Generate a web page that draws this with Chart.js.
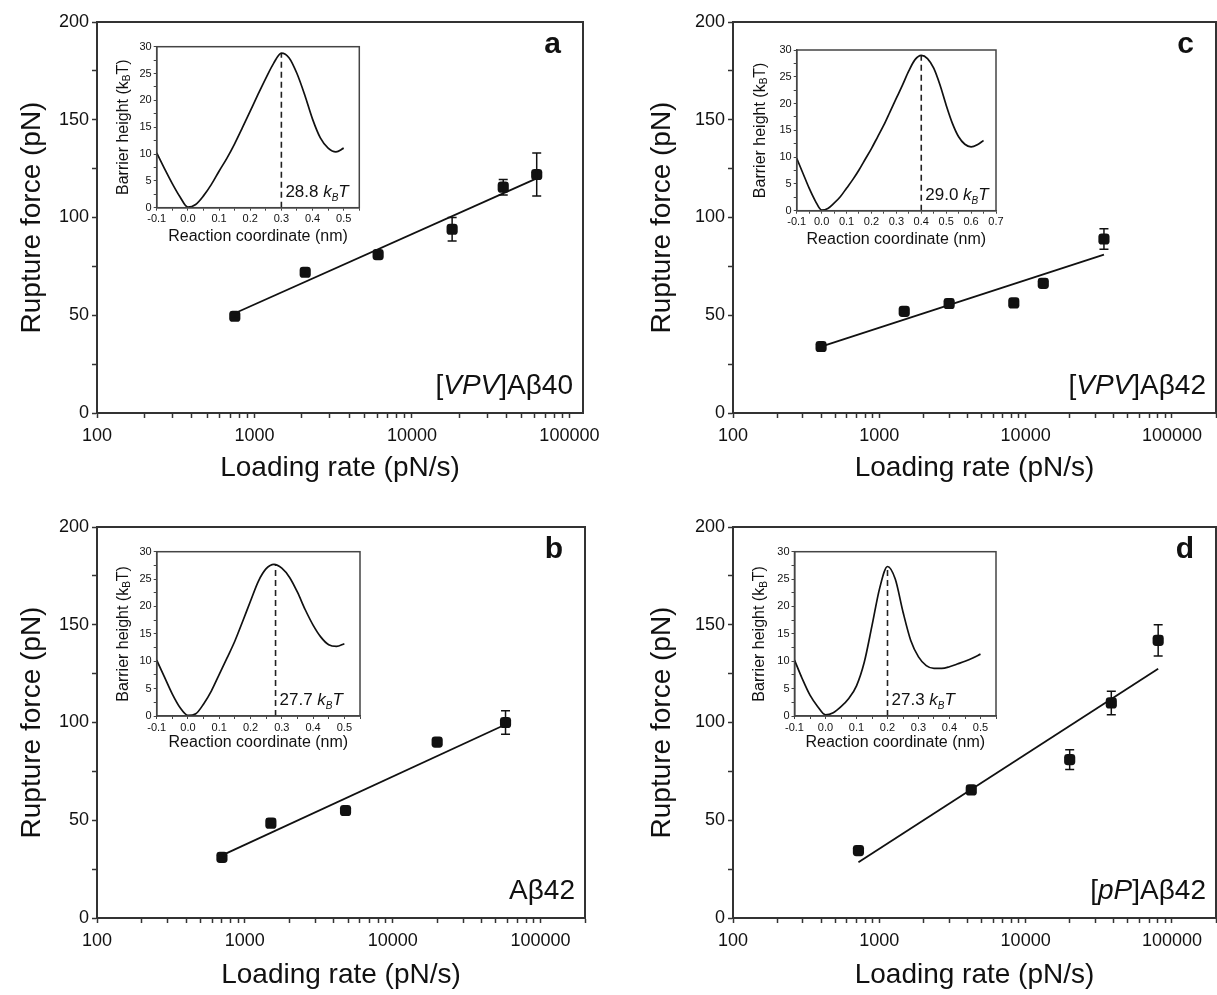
<!DOCTYPE html>
<html>
<head>
<meta charset="utf-8">
<script src="https://cdn.jsdelivr.net/npm/chart.js@4.4.1/dist/chart.umd.min.js"></script>
<style>
body { margin: 0; background: #fff; }
#fig { position: relative; width: 1217px; height: 995px; overflow: hidden; background: #fff; }
#fig canvas { position: absolute; }
</style>
</head>
<body>
<div id="fig">
  <canvas id="mainA" width="608" height="497" style="left:0;top:0"></canvas>
  <canvas id="mainB" width="608" height="490" style="left:0;top:505px"></canvas>
  <canvas id="mainC" width="590" height="497" style="left:636px;top:0"></canvas>
  <canvas id="mainD" width="590" height="490" style="left:636px;top:505px"></canvas>
  <canvas id="insetA" width="275" height="225" style="left:100px;top:30px"></canvas>
  <canvas id="insetB" width="275" height="225" style="left:100px;top:535px"></canvas>
  <canvas id="insetC" width="275" height="230" style="left:740px;top:30px"></canvas>
  <canvas id="insetD" width="275" height="225" style="left:740px;top:535px"></canvas>
</div>
<script>
var FAMILY = "'Liberation Sans', Arial, sans-serif";
Chart.defaults.font.family = FAMILY;
Chart.defaults.color = '#111';

// ---- main panels: loading rate (pN/s) vs rupture force (pN) ----
// a: [VPV]Abeta40
var rateA = [750, 2100, 6100, 18000, 38000, 62000];
var forceA = [49.5, 72, 81, 94, 115.5, 122];
var errA = [1, 1.5, 2, 6, 4, 11];
var fitRateA = [750, 62000];
var fitForceA = [51, 120];

// b: Abeta42
var rateB = [700, 1500, 4800, 20000, 58000];
var forceB = [31, 48.5, 55, 90, 100];
var errB = [1, 2, 1.2, 1.2, 6];
var fitRateB = [700, 58000];
var fitForceB = [32, 99];

// c: [VPV]Abeta42
var rateC = [400, 1480, 3000, 8300, 13200, 34300];
var forceC = [34, 52, 56, 56.3, 66.3, 89];
var errC = [1, 1, 2, 1, 2, 5.3];
var fitRateC = [400, 34300];
var fitForceC = [34, 81];

// d: [pP]Abeta42
var rateD = [720, 4250, 20000, 38500, 80500];
var forceD = [34.5, 65.5, 81, 110, 142];
var errD = [1, 2, 5, 6, 8];
var fitRateD = [720, 80500];
var fitForceD = [28.5, 127.5];

var forceTicks = [0, 25, 50, 75, 100, 125, 150, 175, 200];

// ---- insets: reaction coordinate (nm) vs barrier height (kBT) ----
var coordShort = [-0.1, -0.075, -0.05, -0.025, 0, 0.025, 0.05, 0.075, 0.1, 0.125, 0.15, 0.175, 0.2,
                  0.225, 0.25, 0.275, 0.3, 0.325, 0.35, 0.375, 0.4, 0.425, 0.45, 0.475, 0.5];
var coordLong = [-0.1, -0.075, -0.05, -0.025, 0, 0.025, 0.05, 0.075, 0.1, 0.125, 0.15, 0.175, 0.2,
                 0.225, 0.25, 0.275, 0.3, 0.325, 0.35, 0.375, 0.4, 0.425, 0.45, 0.475, 0.5,
                 0.525, 0.55, 0.575, 0.6, 0.625, 0.65];
var barrierA = [10.2, 7.3, 4.5, 2.0, 0.1, 0.6, 2.2, 4.3, 6.8, 9.2, 11.9, 14.9, 18.0,
                21.1, 24.1, 26.9, 28.8, 27.9, 25.0, 21.0, 16.5, 13.0, 11.1, 10.4, 11.1];
var barrierB = [10.2, 7.1, 4.0, 1.5, 0.1, 0.4, 2.2, 4.6, 7.6, 10.6, 13.7, 17.3, 21.0,
                24.6, 26.9, 27.7, 27.0, 25.3, 22.6, 19.4, 16.6, 14.4, 13.0, 12.7, 13.2];
var barrierC = [9.8, 7.0, 4.2, 1.8, 0.1, 0.4, 1.4, 2.6, 4.2, 5.8, 7.6, 9.6, 11.6,
                13.8, 16.0, 18.5, 21.0, 23.5, 26.1, 28.2, 29.0, 28.4, 26.6, 23.5, 19.7,
                16.3, 13.8, 12.4, 11.9, 12.3, 13.1];
var barrierD = [10.2, 6.8, 3.8, 1.7, 0.2, 0.6, 1.7, 3.2, 5.5, 9.8, 16.5, 23.4, 27.3,
                25.0, 19.0, 13.8, 10.8, 9.2, 8.7, 8.7, 9.0, 9.5, 10.0, 10.6, 11.3];
var peakX = [0.3, 0.28, 0.4, 0.2];
var peakY = [28.8, 27.7, 29.0, 27.3];
var peakText = ['28.8', '27.7', '29.0', '27.3'];

var coordTicksShort = [-0.1, -0.05, 0, 0.05, 0.1, 0.15, 0.2, 0.25, 0.3, 0.35, 0.4, 0.45, 0.5, 0.55];
var coordTicksLong = [-0.1, -0.05, 0, 0.05, 0.1, 0.15, 0.2, 0.25, 0.3, 0.35, 0.4, 0.45, 0.5, 0.55, 0.6, 0.65, 0.7];
var barrierTicks = [0, 2.5, 5, 7.5, 10, 12.5, 15, 17.5, 20, 22.5, 25, 27.5, 30];

function logTicks(max) {
  var out = [];
  for (var p = 100; p <= max; p *= 10)
    for (var m = 1; m <= 9; m++) if (m * p <= max) out.push(m * p);
  return out;
}

function pts(xs, ys) {
  return xs.map(function (x, i) { return { x: x, y: ys[i] }; });
}

// draws a run of text pieces [text, font, dy]
function richText(ctx, parts, x, y, align) {
  var total = 0;
  parts.forEach(function (p) { ctx.font = p[1]; total += ctx.measureText(p[0]).width; });
  var cx = align === 'right' ? x - total : (align === 'center' ? x - total / 2 : x);
  ctx.textAlign = 'left';
  parts.forEach(function (p) {
    ctx.font = p[1];
    ctx.fillText(p[0], cx, y + (p[2] || 0));
    cx += ctx.measureText(p[0]).width;
  });
}

function mainChart(id, c) {
  var deco = {
    id: 'mainDeco',
    afterDatasetsDraw: function (chart) {
      var ctx = chart.ctx, a = chart.chartArea, xs = chart.scales.x, ys = chart.scales.y;
      ctx.save();
      // error bars
      ctx.strokeStyle = '#111';
      ctx.lineWidth = 1.5;
      c.rate.forEach(function (r, i) {
        var e = c.err[i];
        if (!e) return;
        var px = xs.getPixelForValue(r);
        var top = ys.getPixelForValue(c.force[i] + e), bot = ys.getPixelForValue(c.force[i] - e);
        ctx.beginPath();
        ctx.moveTo(px, top); ctx.lineTo(px, bot);
        ctx.moveTo(px - 4.5, top); ctx.lineTo(px + 4.5, top);
        ctx.moveTo(px - 4.5, bot); ctx.lineTo(px + 4.5, bot);
        ctx.stroke();
      });
      // frame
      ctx.strokeStyle = '#333';
      ctx.lineWidth = 2;
      ctx.strokeRect(a.left, a.top, a.right - a.left, a.bottom - a.top);
      // panel letter and sample name
      ctx.fillStyle = '#111';
      ctx.textBaseline = 'alphabetic';
      ctx.textAlign = 'right';
      ctx.font = 'bold 30px ' + FAMILY;
      ctx.fillText(c.letter, a.right - 22, a.top + 31);
      richText(ctx, c.label, a.right - 10, a.bottom - 19, 'right');
      ctx.restore();
    }
  };

  return new Chart(document.getElementById(id), {
    type: 'scatter',
    data: {
      datasets: [{
        data: pts(c.rate, c.force),
        pointStyle: 'rectRounded',
        pointRadius: 6.5,
        backgroundColor: '#111',
        borderColor: '#111',
        borderWidth: 0
      }, {
        data: pts(c.fitRate, c.fitForce),
        showLine: true,
        pointRadius: 0,
        borderColor: '#111',
        borderWidth: 1.8
      }]
    },
    options: {
      responsive: false,
      animation: false,
      layout: { padding: { top: 22, right: c.padRight, left: 0, bottom: 0 } },
      plugins: { legend: { display: false }, tooltip: { enabled: false } },
      scales: {
        x: {
          type: 'logarithmic',
          min: 100,
          max: c.xMax,
          afterBuildTicks: function (s) { s.ticks = logTicks(c.xMax).map(function (v) { return { value: v }; }); },
          afterFit: function (s) { s.height = c.xAxisH; },
          ticks: {
            autoSkip: false, maxRotation: 0, padding: 7,
            font: { size: 18 }, color: '#111',
            callback: function (v) {
              var l = Math.log10(v);
              return Math.abs(l - Math.round(l)) < 1e-9 ? String(v) : '';
            }
          },
          grid: { drawOnChartArea: false, drawTicks: true, tickLength: 5, tickWidth: 1.5, tickColor: '#333' },
          border: { color: '#333', width: 2 },
          title: { display: true, text: 'Loading rate (pN/s)', font: { size: 28 }, color: '#111',
                   padding: { top: 0, bottom: c.xTitlePad } }
        },
        y: {
          type: 'linear',
          min: 0,
          max: 200,
          afterBuildTicks: function (s) { s.ticks = forceTicks.map(function (v) { return { value: v }; }); },
          afterFit: function (s) { s.width = 97; },
          ticks: {
            autoSkip: false, padding: 3,
            font: { size: 18 }, color: '#111',
            callback: function (v) { return v % 50 === 0 ? String(v) : ''; }
          },
          grid: { drawOnChartArea: false, drawTicks: true, tickLength: 5, tickWidth: 1.5, tickColor: '#333' },
          border: { color: '#333', width: 2 },
          title: { display: true, text: 'Rupture force (pN)', font: { size: 28 }, color: '#111',
                   padding: { top: c.yTitlePad, bottom: 0 } }
        }
      }
    },
    plugins: [deco]
  });
}

function insetChart(id, c) {
  var deco = {
    id: 'insetDeco',
    afterDraw: function (chart) {
      var ctx = chart.ctx, a = chart.chartArea, xs = chart.scales.x;
      ctx.save();
      ctx.strokeStyle = '#444';
      ctx.lineWidth = 1.5;
      ctx.strokeRect(a.left, a.top, a.right - a.left, a.bottom - a.top);
      ctx.fillStyle = '#111';
      ctx.textBaseline = 'alphabetic';
      // barrier value next to the dashed line
      richText(ctx, [
        [c.text + ' ', '17px ' + FAMILY],
        ['k', 'italic 17px ' + FAMILY],
        ['B', 'italic 10px ' + FAMILY, 4],
        ['T', 'italic 17px ' + FAMILY]
      ], xs.getPixelForValue(c.peakX) + 4, a.bottom - 11, 'left');
      // rotated y title with subscript
      ctx.translate(a.left - c.yTitleOff, (a.top + a.bottom) / 2);
      ctx.rotate(-Math.PI / 2);
      ctx.textBaseline = 'middle';
      richText(ctx, [
        ['Barrier height (k', '16px ' + FAMILY],
        ['B', '10px ' + FAMILY, 4],
        ['T)', '16px ' + FAMILY]
      ], 0, 0, 'center');
      ctx.restore();
    }
  };

  return new Chart(document.getElementById(id), {
    type: 'scatter',
    data: {
      datasets: [{
        data: pts(c.coord, c.barrier),
        showLine: true,
        pointRadius: 0,
        borderColor: '#111',
        borderWidth: 1.7,
        cubicInterpolationMode: 'monotone'
      }, {
        data: [{ x: c.peakX, y: 0 }, { x: c.peakX, y: c.peakY }],
        showLine: true,
        pointRadius: 0,
        borderColor: '#222',
        borderWidth: 1.6,
        borderDash: [6, 4]
      }]
    },
    options: {
      responsive: false,
      animation: false,
      layout: { padding: { top: c.padTop, right: c.padRight, left: 0, bottom: 0 } },
      plugins: { legend: { display: false }, tooltip: { enabled: false } },
      scales: {
        x: {
          type: 'linear',
          min: -0.1,
          max: c.xMax,
          afterBuildTicks: function (s) { s.ticks = c.xTicks.map(function (v) { return { value: v }; }); },
          afterFit: function (s) { s.height = c.xAxisH; },
          ticks: {
            autoSkip: false, maxRotation: 0, padding: 2,
            font: { size: 11 }, color: '#111',
            callback: function (v) {
              return Math.abs(v * 10 - Math.round(v * 10)) < 1e-6 ? v.toFixed(1) : '';
            }
          },
          grid: { drawOnChartArea: false, drawTicks: true, tickLength: 3, tickWidth: 1, tickColor: '#444' },
          border: { color: '#444', width: 1.5 },
          title: { display: true, text: 'Reaction coordinate (nm)', font: { size: 16 }, color: '#111',
                   padding: { top: 0, bottom: c.xTitlePad } }
        },
        y: {
          type: 'linear',
          min: 0,
          max: 30,
          afterBuildTicks: function (s) { s.ticks = barrierTicks.map(function (v) { return { value: v }; }); },
          afterFit: function (s) { s.width = c.yAxisW; },
          ticks: {
            autoSkip: false, padding: 2,
            font: { size: 11 }, color: '#111',
            callback: function (v) { return v % 5 === 0 ? String(v) : ''; }
          },
          grid: { drawOnChartArea: false, drawTicks: true, tickLength: 3, tickWidth: 1, tickColor: '#444' },
          border: { color: '#444', width: 1.5 },
          title: { display: false }
        }
      }
    },
    plugins: [deco]
  });
}

var F28 = '28px ' + FAMILY, I28 = 'italic 28px ' + FAMILY;

mainChart('mainA', {
  rate: rateA, force: forceA, err: errA, fitRate: fitRateA, fitForce: fitForceA,
  xMax: 122000, padRight: 25, xAxisH: 84, xTitlePad: 12, yTitlePad: 15,
  letter: 'a', label: [['[', F28], ['VPV', I28], [']A\u03b240', F28]]
});
mainChart('mainB', {
  rate: rateB, force: forceB, err: errB, fitRate: fitRateB, fitForce: fitForceB,
  xMax: 200000, padRight: 23, xAxisH: 77, xTitlePad: 3, yTitlePad: 15,
  letter: 'b', label: [['A\u03b242', F28]]
});
mainChart('mainC', {
  rate: rateC, force: forceC, err: errC, fitRate: fitRateC, fitForce: fitForceC,
  xMax: 200000, padRight: 10, xAxisH: 84, xTitlePad: 12, yTitlePad: 9,
  letter: 'c', label: [['[', F28], ['VPV', I28], [']A\u03b242', F28]]
});
mainChart('mainD', {
  rate: rateD, force: forceD, err: errD, fitRate: fitRateD, fitForce: fitForceD,
  xMax: 200000, padRight: 10, xAxisH: 77, xTitlePad: 3, yTitlePad: 9,
  letter: 'd', label: [['[', F28], ['pP', I28], [']A\u03b242', F28]]
});

insetChart('insetA', {
  coord: coordShort, barrier: barrierA, peakX: peakX[0], peakY: peakY[0], text: peakText[0],
  xMax: 0.55, xTicks: coordTicksShort, padTop: 16.7, padRight: 15.7, yAxisW: 56.7, xAxisH: 47.3,
  xTitlePad: 8.7, yTitleOff: 33
});
insetChart('insetB', {
  coord: coordShort, barrier: barrierB, peakX: peakX[1], peakY: peakY[1], text: peakText[1],
  xMax: 0.55, xTicks: coordTicksShort, padTop: 16.7, padRight: 15, yAxisW: 56.7, xAxisH: 44,
  xTitlePad: 7.4, yTitleOff: 33
});
insetChart('insetC', {
  coord: coordLong, barrier: barrierC, peakX: peakX[2], peakY: peakY[2], text: peakText[2],
  xMax: 0.7, xTicks: coordTicksLong, padTop: 20, padRight: 19, yAxisW: 56.7, xAxisH: 49.3,
  xTitlePad: 10.4, yTitleOff: 36
});
insetChart('insetD', {
  coord: coordShort, barrier: barrierD, peakX: peakX[3], peakY: peakY[3], text: peakText[3],
  xMax: 0.55, xTicks: coordTicksShort, padTop: 16.7, padRight: 19, yAxisW: 54.5, xAxisH: 44,
  xTitlePad: 7.4, yTitleOff: 34.5
});
</script>
</body>
</html>
